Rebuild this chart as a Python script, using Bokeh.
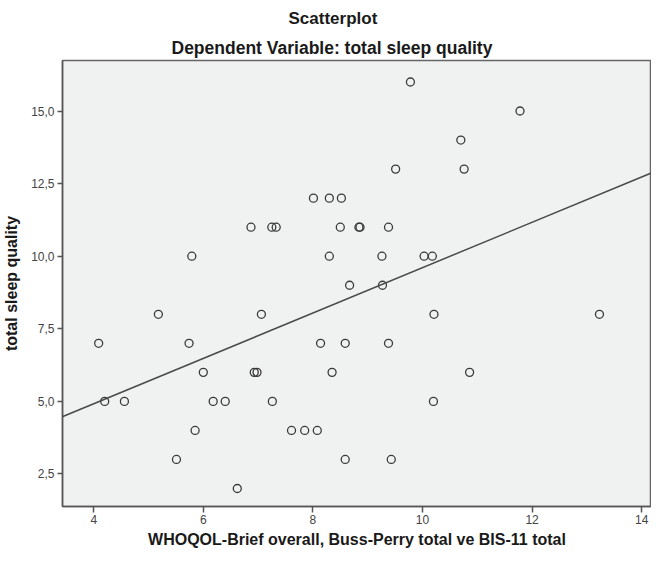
import numpy as np
from bokeh.plotting import figure
from bokeh.models import Title, Slope, FixedTicker, CustomJSTickFormatter, ColumnDataSource
from bokeh.embed import file_html
from bokeh.resources import INLINE

# ---- data ----
quality_x = [9.78, 11.78, 10.70, 9.51, 10.76,
             8.01, 8.30, 8.52,
             6.87, 7.25, 7.33, 8.50, 8.84, 8.86, 9.38,
             5.79, 8.30, 9.26, 10.03, 10.18,
             8.67, 9.27,
             5.18, 7.06, 10.21, 13.23,
             4.09, 5.74, 8.14, 8.59, 9.38,
             6.00, 6.93, 6.98, 8.35, 10.86,
             4.20, 4.56, 6.18, 6.40, 7.26, 10.20,
             5.85, 7.61, 7.85, 8.08,
             5.51, 8.59, 9.43,
             6.62]
sleep_y = [16, 15, 14, 13, 13,
           12, 12, 12,
           11, 11, 11, 11, 11, 11, 11,
           10, 10, 10, 10, 10,
           9, 9,
           8, 8, 8, 8,
           7, 7, 7, 7, 7,
           6, 6, 6, 6, 6,
           5, 5, 5, 5, 5, 5,
           4, 4, 4, 4,
           3, 3, 3,
           2]
x_ticks = [4, 6, 8, 10, 12, 14]
y_ticks = [2.5, 5.0, 7.5, 10.0, 12.5, 15.0]
x_range = (3.43, 14.18)
y_range = (1.38, 16.74)

title_text = "Scatterplot"
subtitle_text = "Dependent Variable: total sleep quality"
x_label = "WHOQOL-Brief overall, Buss-Perry total ve BIS-11 total"
y_label = "total sleep quality"

FONT = "Liberation Sans"

p = figure(width=651, height=550, x_range=x_range, y_range=y_range,
           output_backend="svg", toolbar_location=None,
           title=title_text,
           min_border_left=56, min_border_right=0, min_border_top=0, min_border_bottom=0)

p.background_fill_color = "#f0f1f1"
p.border_fill_color = "white"
p.outline_line_color = "#666666"
p.outline_line_width = 1.5
p.grid.visible = False

p.title.align = "left"
p.title.offset = 226
p.title.text_font = FONT
p.title.text_font_size = "17px"
p.title.text_font_style = "bold"
p.title.text_color = "#1a1a1a"
p.title.standoff = 12

sub = Title(text=subtitle_text, align="left", offset=109, text_font=FONT,
            text_font_size="17.5px", text_font_style="bold", text_color="#1a1a1a", standoff=5)
p.add_layout(sub, "above")

for ax in (p.xaxis[0], p.yaxis[0]):
    ax.axis_line_color = "#555555"
    ax.axis_line_width = 1.5
    ax.major_tick_line_color = "#555555"
    ax.major_tick_line_width = 1.5
    ax.major_tick_in = 0
    ax.minor_tick_line_color = None
    ax.major_label_text_font = FONT
    ax.major_label_text_font_size = "12px"
    ax.major_label_text_color = "#444444"
    ax.axis_label_text_font = FONT
    ax.axis_label_text_font_size = "16px"
    ax.axis_label_text_font_style = "bold"
    ax.axis_label_text_color = "#1a1a1a"

p.xaxis[0].ticker = FixedTicker(ticks=x_ticks)
p.yaxis[0].ticker = FixedTicker(ticks=y_ticks)
p.xaxis[0].major_tick_out = 6
p.yaxis[0].major_tick_out = 5
p.yaxis[0].formatter = CustomJSTickFormatter(code="return tick.toFixed(1).replace('.', ',');")
p.xaxis[0].axis_label = x_label
p.yaxis[0].axis_label = y_label
p.xaxis[0].major_label_standoff = 2
p.xaxis[0].axis_label_standoff = 4
p.yaxis[0].major_label_standoff = 3
p.yaxis[0].axis_label_standoff = 8

# regression line fitted to the data
slope, intercept = np.polyfit(quality_x, sleep_y, 1)
p.add_layout(Slope(gradient=float(slope), y_intercept=float(intercept),
                   line_color="#4a4a4a", line_width=1.5))

src = ColumnDataSource(dict(x=quality_x, y=sleep_y))
p.scatter("x", "y", source=src, marker="circle", size=8,
          fill_color=None, line_color="#3a3a3a", line_width=1.3)

open("out.html", "w").write(file_html(p, INLINE))
